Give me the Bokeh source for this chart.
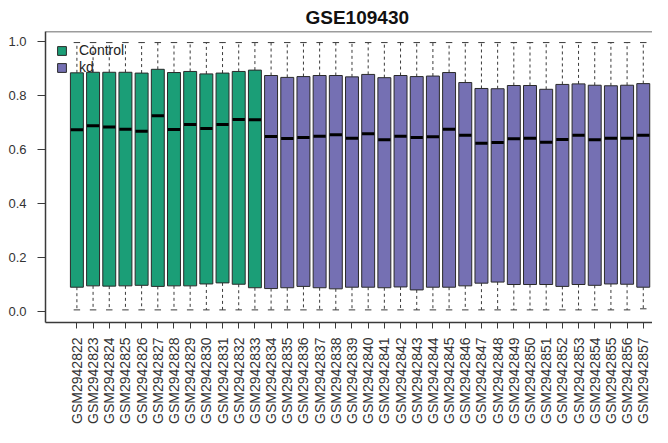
import numpy as np
from bokeh.plotting import figure
from bokeh.models import (ColumnDataSource, FixedTicker, Legend, LegendItem, Range1d,
                          Span, NumeralTickFormatter)
from bokeh.embed import file_html
from bokeh.resources import INLINE

samples = ["GSM2942822", "GSM2942823", "GSM2942824", "GSM2942825", "GSM2942826", "GSM2942827",
           "GSM2942828", "GSM2942829", "GSM2942830", "GSM2942831", "GSM2942832", "GSM2942833",
           "GSM2942834", "GSM2942835", "GSM2942836", "GSM2942837", "GSM2942838", "GSM2942839",
           "GSM2942840", "GSM2942841", "GSM2942842", "GSM2942843", "GSM2942844", "GSM2942845",
           "GSM2942846", "GSM2942847", "GSM2942848", "GSM2942849", "GSM2942850", "GSM2942851",
           "GSM2942852", "GSM2942853", "GSM2942854", "GSM2942855", "GSM2942856", "GSM2942857"]
groups = ["Control"] * 12 + ["kd"] * 24

q3 = [0.884, 0.886, 0.886, 0.886, 0.883, 0.897, 0.885, 0.889, 0.880, 0.883, 0.889, 0.894,
      0.874, 0.867, 0.870, 0.874, 0.874, 0.869, 0.878, 0.866, 0.874, 0.870, 0.872, 0.885,
      0.848, 0.826, 0.825, 0.837, 0.837, 0.823, 0.841, 0.843, 0.838, 0.836, 0.838, 0.844]
medians = [0.673, 0.688, 0.683, 0.675, 0.668, 0.725, 0.674, 0.693, 0.678, 0.693, 0.711, 0.710,
           0.648, 0.641, 0.644, 0.649, 0.655, 0.642, 0.658, 0.636, 0.649, 0.644, 0.647, 0.675,
           0.653, 0.623, 0.626, 0.640, 0.642, 0.627, 0.637, 0.653, 0.636, 0.642, 0.642, 0.653]
q1 = [0.090, 0.095, 0.094, 0.095, 0.097, 0.093, 0.095, 0.095, 0.102, 0.106, 0.101, 0.088,
      0.085, 0.088, 0.093, 0.088, 0.084, 0.090, 0.090, 0.088, 0.091, 0.080, 0.090, 0.090,
      0.095, 0.105, 0.109, 0.100, 0.100, 0.100, 0.093, 0.100, 0.097, 0.102, 0.101, 0.090]
whisk_hi = [0.996] * 36
whisk_lo = [0.006] * 35 + [0.010]

group_colors = {"Control": "#1B9E77", "kd": "#7570B3"}
FONT = "Liberation Sans"
INK = "#3a3a3a"

x = np.arange(1, len(samples) + 1)
data = dict(x=x, q1=q1, q3=q3, med=medians, hi=whisk_hi, lo=whisk_lo,
            cl=x - 0.2, cr=x + 0.2, ml=x - 0.38, mr=x + 0.38,
            color=[group_colors[g] for g in groups], group=groups)
src_all = ColumnDataSource(data)

def subset(g):
    idx = [i for i, gg in enumerate(groups) if gg == g]
    return ColumnDataSource({k: [v[i] for i in idx] for k, v in data.items()})

p = figure(width=652, height=427, output_backend="svg", toolbar_location=None,
           x_range=Range1d(-0.94, 36.57), y_range=Range1d(-0.0407, 1.037),
           min_border_left=45, min_border_top=31, min_border_bottom=105, min_border_right=0)
p.outline_line_color = None
p.xgrid.visible = False
p.ygrid.visible = False
p.background_fill_color = "white"

p.title.text = "GSE109430"
p.title.align = "left"
p.title.offset = 260
p.title.text_font = FONT
p.title.text_font_size = "19px"
p.title.text_font_style = "bold"
p.title.text_color = "#111111"
p.title.standoff = 8

# whiskers
p.segment(x0="x", y0="q3", x1="x", y1="hi", source=src_all, line_color=INK,
          line_dash="3 3", line_width=1)
p.segment(x0="x", y0="q1", x1="x", y1="lo", source=src_all, line_color=INK,
          line_dash="3 3", line_width=1)
p.segment(x0="cl", y0="hi", x1="cr", y1="hi", source=src_all, line_color=INK, line_width=1)
p.segment(x0="cl", y0="lo", x1="cr", y1="lo", source=src_all, line_color=INK, line_width=1)

# boxes
renderers = {}
for g in ["Control", "kd"]:
    renderers[g] = p.vbar(x="x", width=0.8, top="q3", bottom="q1", source=subset(g),
                          fill_color=group_colors[g], line_color="#2a2a2a", line_width=1)

# medians
p.segment(x0="ml", y0="med", x1="mr", y1="med", source=src_all, line_color="black",
          line_width=3)

# top frame line
p.add_layout(Span(location=1.037, dimension="width", line_color=INK, line_width=1.5))

# axes
p.yaxis.ticker = FixedTicker(ticks=[0.0, 0.2, 0.4, 0.6, 0.8, 1.0])
p.yaxis.formatter = NumeralTickFormatter(format="0.0")
p.yaxis.major_tick_out = 8
p.yaxis.major_tick_in = 0
p.yaxis.minor_tick_line_color = None
p.yaxis.major_label_standoff = 11
p.yaxis.major_label_text_font = FONT
p.yaxis.major_label_text_font_size = "13px"
p.yaxis.major_label_text_color = "#333333"
p.yaxis.axis_line_color = INK
p.yaxis.axis_line_width = 1.5
p.yaxis.major_tick_line_color = INK

p.xaxis.ticker = FixedTicker(ticks=[int(v) for v in x])
p.xaxis.major_label_overrides = {int(v): s for v, s in zip(x, samples)}
p.xaxis.major_label_orientation = np.pi / 2
p.xaxis.major_tick_out = 6
p.xaxis.major_tick_in = 0
p.xaxis.minor_tick_line_color = None
p.xaxis.major_label_standoff = 9
p.xaxis.major_label_text_font = FONT
p.xaxis.major_label_text_font_size = "14px"
p.xaxis.major_label_text_color = "#333333"
p.xaxis.axis_line_color = INK
p.xaxis.axis_line_width = 1.5
p.xaxis.major_tick_line_color = INK

legend = Legend(items=[LegendItem(label="Control", renderers=[renderers["Control"]]),
                       LegendItem(label="kd", renderers=[renderers["kd"]])],
                location="top_left", border_line_color=None, background_fill_alpha=0,
                margin=11, padding=8, spacing=1, glyph_width=11, glyph_height=11,
                label_height=14, label_standoff=12, label_text_font=FONT,
                label_text_font_size="14px", label_text_color="#222222")
p.add_layout(legend)

open("out.html", "w").write(file_html(p, INLINE))
